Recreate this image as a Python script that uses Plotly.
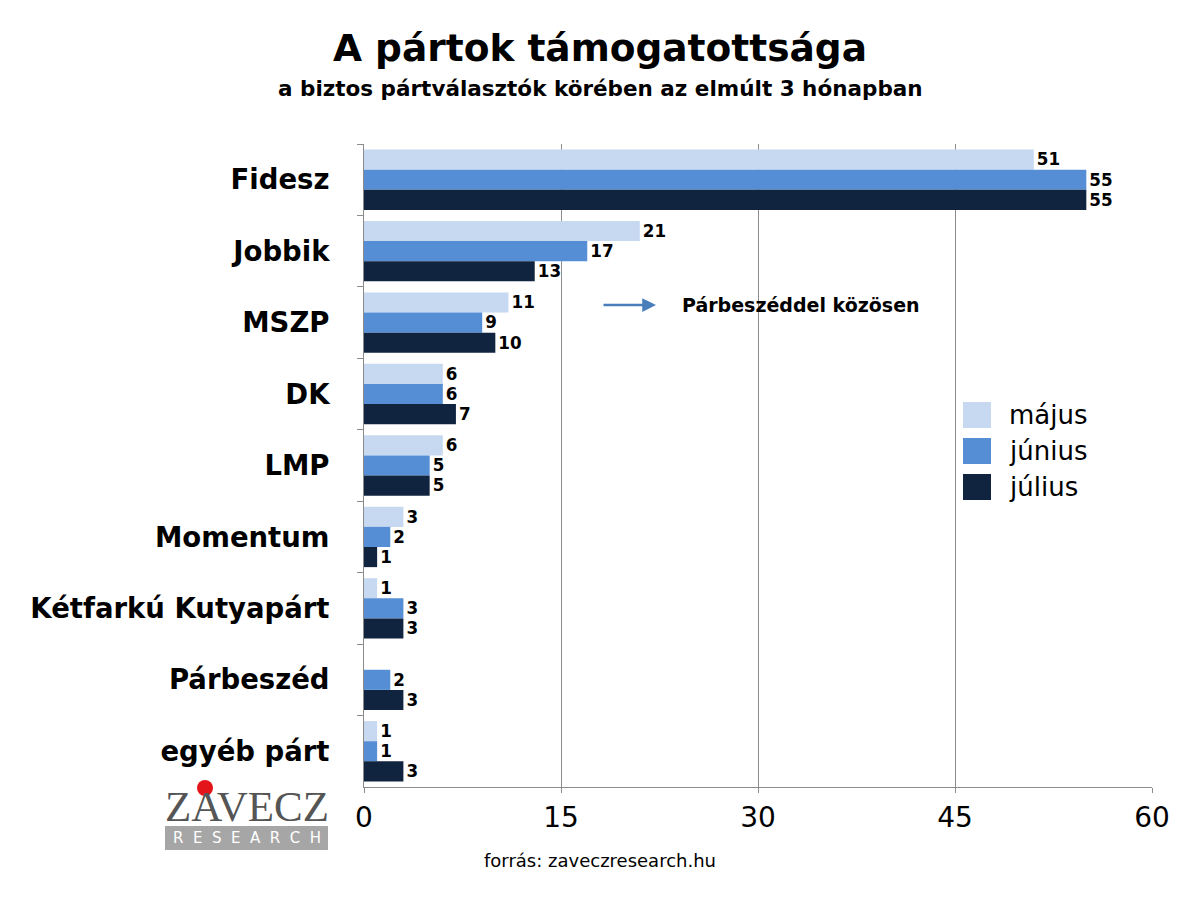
import plotly.graph_objects as go

categories = ["Fidesz", "Jobbik", "MSZP", "DK", "LMP", "Momentum",
              "Kétfarkú Kutyapárt", "Párbeszéd", "egyéb párt"]
series_names = ["május", "június", "július"]
majus = [51, 21, 11, 6, 6, 3, 1, None, 1]
junius = [55, 17, 9, 6, 5, 2, 3, 2, 1]
julius = [55, 13, 10, 7, 5, 1, 3, 3, 3]
colors = ["#c6d9f1", "#558ed5", "#10243f"]
x_ticks = [0, 15, 30, 45, 60]

OFF = 8  # page body margin
W, H = 1200 - 2 * OFF, 901 - 2 * OFF
# plot area in page pixels
L, R, T, B = 364, 1152, 144, 787
FONT = "DejaVu Sans"


def px(x):
    return (x - L) / (R - L)


def py(y):
    return (B - y) / (B - T)


fig = go.Figure()
for name, vals, col in zip(series_names, [majus, junius, julius], colors):
    fig.add_trace(go.Bar(
        y=categories, x=vals, name=name, orientation="h",
        marker=dict(color=col, line=dict(width=0)),
        text=[("" if v is None else str(v)) for v in vals],
        textposition="outside", cliponaxis=False,
        textfont=dict(family=FONT, size=20, color="black", weight="bold"),
        showlegend=False,
    ))

fig.update_layout(
    width=W, height=H,
    margin=dict(l=L - OFF, r=W + OFF - R, t=T - OFF, b=H + OFF - B),
    paper_bgcolor="white", plot_bgcolor="white",
    barmode="group", bargap=0.155, bargroupgap=0,
    font=dict(family=FONT, color="black"),
)

fig.update_xaxes(range=[0, 60], tickvals=x_ticks, showgrid=True,
                 gridcolor="#8c8c8c", gridwidth=1, zeroline=False,
                 showline=True, linecolor="#8c8c8c", linewidth=1,
                 ticks="outside", ticklen=5, tickcolor="#8c8c8c",
                 tickfont=dict(family=FONT, size=28, color="black"))
fig.update_yaxes(autorange="reversed", showline=True, linecolor="#8c8c8c",
                 linewidth=1, ticks="outside", tickson="boundaries",
                 ticklen=6, tickcolor="#8c8c8c", ticklabelstandoff=28,
                 tickfont=dict(family=FONT, size=27.5, color="black",
                               weight="bold"))

ann = []
ann.append(dict(text="<b>A pártok támogatottsága</b>",
                x=px(600), y=py(48), xref="paper", yref="paper",
                xanchor="center", yanchor="middle", showarrow=False,
                font=dict(family=FONT, size=37.5, color="black")))
ann.append(dict(text="<b>a biztos pártválasztók körében az elmúlt 3 hónapban</b>",
                x=px(600), y=py(89), xref="paper", yref="paper",
                xanchor="center", yanchor="middle",
                showarrow=False, font=dict(family=FONT, size=21.5, color="black")))
ann.append(dict(text="forrás: zaveczresearch.hu", x=px(600), y=py(860),
                xref="paper", yref="paper", xanchor="center", yanchor="middle",
                showarrow=False,
                font=dict(family=FONT, size=18, color="black")))
# arrow annotation
ann.append(dict(text="", x=px(656), y=py(305), xref="paper", yref="paper",
                ax=-54, ay=0, showarrow=True, arrowhead=2, arrowsize=1.1,
                arrowwidth=2.5, arrowcolor="#4a7ebb"))
ann.append(dict(text="<b>Párbeszéddel közösen</b>", x=px(680), y=py(305),
                xref="paper", yref="paper", xanchor="left", yanchor="middle",
                showarrow=False, font=dict(family=FONT, size=19, color="black")))

shapes = []
# custom legend
leg_y = [415, 451, 487]
for name, col, yc in zip(series_names, colors, leg_y):
    shapes.append(dict(type="rect", xref="paper", yref="paper",
                       x0=px(963), x1=px(991), y0=py(yc - 13), y1=py(yc + 13),
                       fillcolor=col, line=dict(width=0)))
    ann.append(dict(text=name, x=px(1007), y=py(yc), xref="paper", yref="paper",
                    xanchor="left", yanchor="middle", showarrow=False,
                    font=dict(family=FONT, size=26, color="black")))

# logo
shapes.append(dict(type="rect", xref="paper", yref="paper",
                   x0=px(165), x1=px(328), y0=py(826), y1=py(850),
                   fillcolor="#a6a6a6", line=dict(width=0)))
ann.append(dict(text="ZAVECZ", x=px(247), y=py(806), xref="paper", yref="paper",
                xanchor="center", yanchor="middle", showarrow=False,
                font=dict(family="Liberation Serif", size=43, color="#555555")))
shapes.append(dict(type="circle", xref="paper", yref="paper",
                   x0=px(197), x1=px(213), y0=py(780), y1=py(796),
                   fillcolor="#e3151a", line=dict(width=0)))
ann.append(dict(text="R  E  S  E  A  R  C  H", x=px(247), y=py(838),
                xref="paper", yref="paper", xanchor="center", yanchor="middle",
                showarrow=False,
                font=dict(family="DejaVu Sans", size=15, color="white")))

fig.update_layout(annotations=ann, shapes=shapes)
fig.write_html("out.html")
